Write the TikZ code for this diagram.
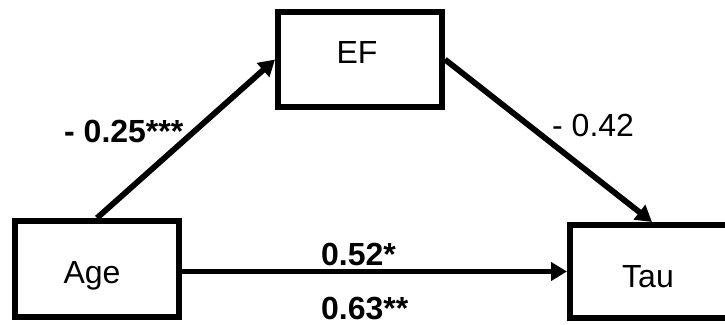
\documentclass[tikz,border=0pt]{standalone}
\usepackage{fontspec}
\setmainfont{Liberation Sans}
\usetikzlibrary{arrows.meta}

\begin{document}
\begin{tikzpicture}[
  x=1pt, y=-1pt,
  varbox/.style={draw=black, line width=6pt, fill=white, inner sep=0pt,
                 minimum width=164pt},
  varname/.style={inner sep=0pt, anchor=base, font=\fontsize{32}{32}\selectfont},
  coef/.style={inner sep=0pt, anchor=base west, font=\fontsize{32}{32}\selectfont},
  coefbold/.style={coef, font=\fontsize{32}{32}\selectfont\bfseries},
  path arrow/.style={draw=black, line width=5.8pt,
                     -{Triangle[length=16pt, width=18pt]}}
]
  % canvas
  \fill[white] (0,0) rectangle (725,324);
  \useasboundingbox (0,0) rectangle (725,324);

  % variable boxes
  \node[varbox, minimum height=95pt] (ef)  at (360,59.5)  {};
  \node[varbox, minimum height=96pt] (age) at (97,269)    {};
  \begin{scope}
    \clip (0,0) rectangle (725,324);
    \node[varbox, minimum height=93pt] (tau) at (652,271.5) {};
  \end{scope}

  % variable names
  \node[varname] (eftext)  at (357,63)   {EF};
  \node[varname] (agetext) at (92,283)   {Age};
  \node[varname] (tautext) at (648,287)  {Tau};

  % paths
  \draw[path arrow] (age.north) -- (ef.west);
  \draw[path arrow] (ef.east) -- (tau.north);
  \draw[path arrow] (age.east |- tau.west) -- (tau.west);

  % path coefficients
  \node[coefbold] (a)  at (64,142)  {- 0.25***};
  \node[coef]     (b)  at (552,136) {- 0.42};
  \node[coefbold] (c)  at (321,265) {0.52*};
  \node[coefbold] (cp) at (321,319) {0.63**};
\end{tikzpicture}
\end{document}
